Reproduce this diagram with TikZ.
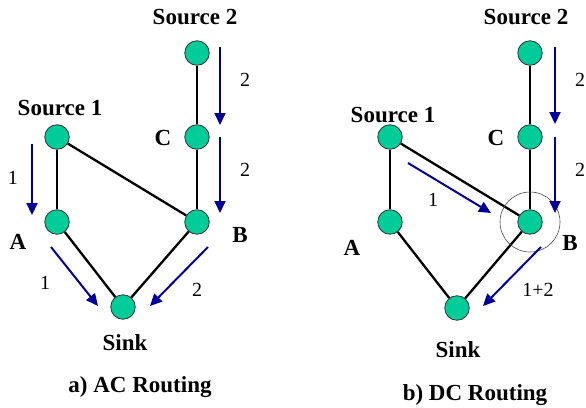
\documentclass[tikz,border=0pt]{standalone}
\usepackage{fontspec}
\setmainfont{Liberation Serif}
\usetikzlibrary{arrows.meta}
\definecolor{nodegreen}{RGB}{0,204,153}
\definecolor{flowblue}{RGB}{0,0,153}

\begin{document}
\begin{tikzpicture}[x=1pt,y=-1pt,
  vertex/.style={circle,draw=black!80,fill=nodegreen,minimum size=24.5pt,inner sep=0pt,line width=0.8pt},
  link/.style={line width=2.3pt},
  flow/.style={draw=flowblue,line width=2pt,-{Triangle[length=12pt,width=11pt]}},
  lab/.style={font=\fontsize{23}{26}\selectfont\bfseries},
  num/.style={font=\fontsize{20}{24}\selectfont}]
\useasboundingbox (0,0) rectangle (586,407);

% a) AC routing
\node[vertex] (s2a) at (197,53) {};
\node[vertex] (ca) at (197,137) {};
\node[vertex] (s1a) at (57,137) {};
\node[vertex] (aa) at (57,222) {};
\node[vertex] (ba) at (197,222) {};
\node[vertex] (ka) at (123,307) {};
\draw[link] (s2a)--(ca);
\draw[link] (ca)--(ba);
\draw[link] (s1a)--(aa);
\draw[link] (s1a)--(ba);
\draw[link] (aa)--(ka);
\draw[link] (ba)--(ka);
\node[lab] (src2a) at (195,17) {Source 2};
\node[lab] (src1a) at (60,108) {Source 1};
\node[lab] (labCa) at (163,138) {C};
\node[lab] (labAa) at (18,242) {A};
\node[lab] (labBa) at (240,235) {B};
\node[lab] (sinka) at (125,343) {Sink};
\node[lab] (capa) at (140,387) {a) AC Routing};
% flows
\coordinate (f1s) at (32,144); \coordinate (f1e) at (32,215);
\coordinate (f2s) at (220,47); \coordinate (f2e) at (220,125);
\coordinate (f3s) at (220,137); \coordinate (f3e) at (220,213);
\coordinate (f4s) at (51,247); \coordinate (f4e) at (98,306);
\coordinate (f5s) at (208,247); \coordinate (f5e) at (150,306);
\draw[flow] (f1s)--(f1e);
\draw[flow] (f2s)--(f2e);
\draw[flow] (f3s)--(f3e);
\draw[flow] (f4s)--(f4e);
\draw[flow] (f5s)--(f5e);
\node[num] at (13,178) {1};
\node[num] at (245,80) {2};
\node[num] at (245,170) {2};
\node[num] at (45,283) {1};
\node[num] at (197,290) {2};

% b) DC routing
\node[vertex] (s2b) at (530,53) {};
\node[vertex] (cb) at (530,137) {};
\node[vertex] (s1b) at (390,137) {};
\node[vertex] (ab) at (390,222) {};
\node[vertex] (bb) at (530,222) {};
\node[vertex] (kb) at (457,308) {};
\draw[link] (s2b)--(cb);
\draw[link] (cb)--(bb);
\draw[link] (s1b)--(ab);
\draw[link] (s1b)--(bb);
\draw[link] (ab)--(kb);
\draw[link] (bb)--(kb);
\node[circle,draw=black!70,line width=0.6pt,minimum size=60pt] (ring) at (bb) {};
\node[lab] (src2b) at (526,17) {Source 2};
\node[lab] (src1b) at (393,115) {Source 1};
\node[lab] (labCb) at (496,138) {C};
\node[lab] (labAb) at (352,248) {A};
\node[lab] (labBb) at (570,243) {B};
\node[lab] (sinkb) at (458,350) {Sink};
\node[lab] (capb) at (475,395) {b) DC Routing};
% flows
\coordinate (g1s) at (555,47); \coordinate (g1e) at (555,124);
\coordinate (g2s) at (555,137); \coordinate (g2e) at (555,213);
\coordinate (g3s) at (408,163); \coordinate (g3e) at (491,213);
\coordinate (g4s) at (541,247); \coordinate (g4e) at (483,306);
\draw[flow] (g1s)--(g1e);
\draw[flow] (g2s)--(g2e);
\draw[flow] (g3s)--(g3e);
\draw[flow] (g4s)--(g4e);
\node[num] at (580,80) {2};
\node[num] at (580,170) {2};
\node[num] at (433,200) {1};
\node[num] at (538,290) {1+2};
\end{tikzpicture}
\end{document}
